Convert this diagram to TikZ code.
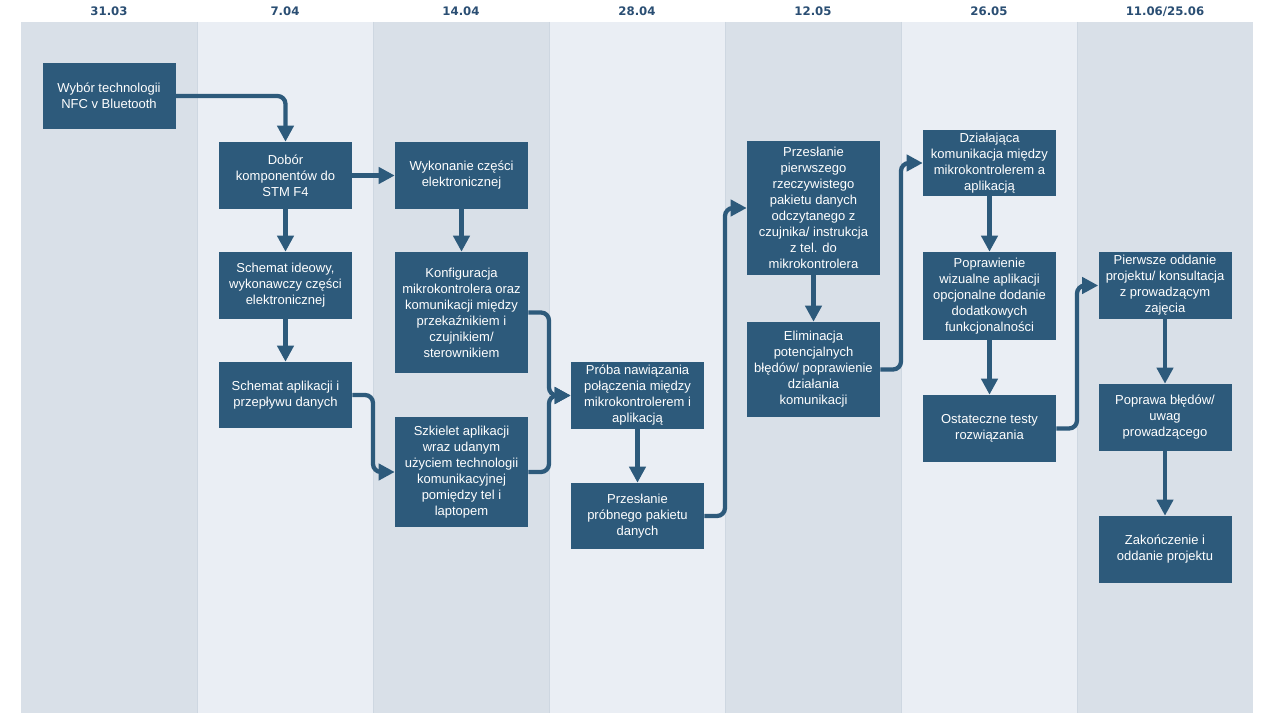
\documentclass[tikz,border=0pt]{standalone}
\usepackage{fontspec}
\setmainfont{Liberation Sans}
\newfontfamily\hdrfont{DejaVu Sans}
\usetikzlibrary{arrows.meta}
\definecolor{nodeblue}{HTML}{2D5A7B}
\definecolor{hdrblue}{HTML}{2A4E73}
\definecolor{coldark}{HTML}{D9E0E8}
\definecolor{collight}{HTML}{EAEEF4}
\definecolor{colsep}{HTML}{CED7E1}
\tikzset{
  box/.style={fill=nodeblue, text=white, minimum width=99.75pt, inner sep=0pt,
    align=center, font=\fontsize{9.75}{12}\selectfont},
  conn/.style={draw=nodeblue, line width=3.2pt, rounded corners=6pt,
    -{Triangle[length=12pt,width=12pt]}},
  hdr/.style={text=hdrblue, font=\hdrfont\bfseries\fontsize{8.8}{10}\selectfont, inner sep=0pt, anchor=base},
  colsepline/.style={draw=colsep, line width=0.6pt}
}
\begin{document}
\begin{tikzpicture}[x=0.75pt,y=-0.75pt]
\useasboundingbox (0,0) rectangle (1279,727);
\fill[white] (0,0) rectangle (1279,727);
% columns
\fill[coldark] (21,22) rectangle (197,713);
\fill[collight] (197,22) rectangle (373,713);
\fill[coldark] (373,22) rectangle (549,713);
\fill[collight] (549,22) rectangle (725,713);
\fill[coldark] (725,22) rectangle (901,713);
\fill[collight] (901,22) rectangle (1077,713);
\fill[coldark] (1077,22) rectangle (1253,713);
\foreach \xx in {197,373,549,725,901,1077} \draw[colsepline] (\xx,22) -- (\xx,713);
% headers
\node[hdr] (h1) at (109,16) {31.03};
\node[hdr] (h2) at (285,16) {7.04};
\node[hdr] (h3) at (461,16) {14.04};
\node[hdr] (h4) at (637,16) {28.04};
\node[hdr] (h5) at (813,16) {12.05};
\node[hdr] (h6) at (989,16) {26.05};
\node[hdr] (h7) at (1165,16) {11.06/25.06};
% boundary coordinates
\coordinate (c3) at (373,0);
\coordinate (c4) at (549,0);
\coordinate (c5) at (725,0);
\coordinate (c6) at (901,0);
\coordinate (c7) at (1077,0);
% nodes
\node[box, minimum height=66*0.75pt] (n1) at (109,96) {Wybór technologii\\NFC v Bluetooth};
\node[box, minimum height=67*0.75pt] (n2) at (285.5,175.5) {Dobór\\komponentów do\\STM F4};
\node[box, minimum height=67*0.75pt] (n3) at (461.5,175.5) {Wykonanie części\\elektronicznej};
\node[box, minimum height=67*0.75pt] (n4) at (285.5,285.5) {Schemat ideowy,\\wykonawczy części\\elektronicznej};
\node[box, minimum height=121*0.75pt] (n5) at (461.5,312.5) {Konfiguracja\\mikrokontrolera oraz\\komunikacji między\\przekaźnikiem i\\czujnikiem/\\sterownikiem};
\node[box, minimum height=66*0.75pt] (n6) at (285.5,395) {Schemat aplikacji i\\przepływu danych};
\node[box, minimum height=110*0.75pt] (n7) at (461.5,472) {Szkielet aplikacji\\wraz udanym\\użyciem technologii\\komunikacyjnej\\pomiędzy tel i\\laptopem};
\node[box, minimum height=67*0.75pt] (n8) at (637.5,395.5) {Próba nawiązania\\połączenia między\\mikrokontrolerem i\\aplikacją};
\node[box, minimum height=66*0.75pt] (n9) at (637.5,516) {Przesłanie\\próbnego pakietu\\danych};
\node[box, minimum height=134*0.75pt] (n10) at (813.5,208) {Przesłanie\\pierwszego\\rzeczywistego\\pakietu danych\\odczytanego z\\czujnika/ instrukcja\\z tel. do\\mikrokontrolera};
\node[box, minimum height=95*0.75pt] (n11) at (813.5,369.5) {Eliminacja\\potencjalnych\\błędów/ poprawienie\\działania\\komunikacji};
\node[box, minimum height=66*0.75pt] (n12) at (989.5,163) {Działająca\\komunikacja między\\mikrokontrolerem a\\aplikacją};
\node[box, minimum height=88*0.75pt] (n13) at (989.5,296) {Poprawienie\\wizualne aplikacji\\opcjonalne dodanie\\dodatkowych\\funkcjonalności};
\node[box, minimum height=67*0.75pt] (n14) at (989.5,428.5) {Ostateczne testy\\rozwiązania};
\node[box, minimum height=67*0.75pt] (n15) at (1165,285.5) {Pierwsze oddanie\\projektu/ konsultacja\\z prowadzącym\\zajęcia};
\node[box, minimum height=67*0.75pt] (n16) at (1165,417.5) {Poprawa błędów/\\uwag\\prowadzącego};
\node[box, minimum height=67*0.75pt] (n17) at (1165,549.5) {Zakończenie i\\oddanie projektu};
% connectors
\draw[conn] (n1.east) -| (n2.north);
\draw[conn] (n2.east) -- (n3.west);
\draw[conn] (n2.south) -- (n4.north);
\draw[conn] (n4.south) -- (n6.north);
\draw[conn] (n3.south) -- (n5.north);
\draw[conn] (n6.east) -| (c3 |- n7.west) -- (n7.west);
\draw[conn] (n5.east) -| (c4 |- n8.west) -- (n8.west);
\draw[conn] (n7.east) -| (c4 |- n8.west) -- (n8.west);
\draw[conn] (n8.south) -- (n9.north);
\draw[conn] (n9.east) -| (c5 |- n10.west) -- (n10.west);
\draw[conn] (n10.south) -- (n11.north);
\draw[conn] (n11.east) -| (c6 |- n12.west) -- (n12.west);
\draw[conn] (n12.south) -- (n13.north);
\draw[conn] (n13.south) -- (n14.north);
\draw[conn] (n14.east) -| (c7 |- n15.west) -- (n15.west);
\draw[conn] (n15.south) -- (n16.north);
\draw[conn] (n16.south) -- (n17.north);
\end{tikzpicture}
\end{document}
